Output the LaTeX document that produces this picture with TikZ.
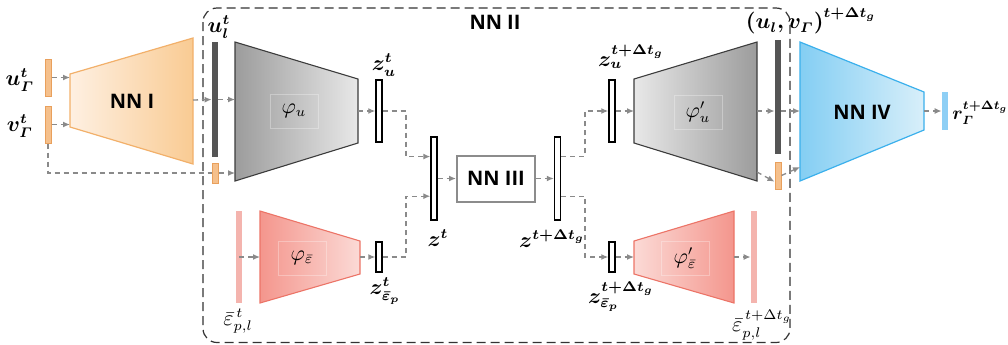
\documentclass[tikz,border=0pt]{standalone}
\usepackage{amsmath}
\usepackage{bm}
\usepackage{graphicx}
\usepackage{fontspec}
\newfontfamily\nnfont{Open Sans}
\usetikzlibrary{arrows.meta,calc}
\definecolor{arrowgray}{HTML}{8A8A8A}
\definecolor{orangebar}{HTML}{F5C08C}
\definecolor{orangeedge}{HTML}{E9A05C}
\definecolor{nnIl}{HTML}{FEF0E2}
\definecolor{nnIr}{HTML}{F9CB93}
\definecolor{nnIedge}{HTML}{F2B06A}
\definecolor{darkbar}{HTML}{555555}
\definecolor{gdark}{HTML}{9C9C9C}
\definecolor{glight}{HTML}{E8E8E8}
\definecolor{gedge}{HTML}{3C3C3C}
\definecolor{pinkbar}{HTML}{F4B4AE}
\definecolor{pdark}{HTML}{F4968D}
\definecolor{plight}{HTML}{FBDAD6}
\definecolor{pedge}{HTML}{EC7467}
\definecolor{bdark}{HTML}{84CEF3}
\definecolor{blight}{HTML}{D8EFFA}
\definecolor{bedge}{HTML}{3BB0EC}
\definecolor{bluebar}{HTML}{8ECFF5}
\definecolor{boxgray}{HTML}{8C8C8C}
\tikzset{
  conn/.style={draw=arrowgray, line width=0.65pt, dash pattern=on 2.5pt off 2pt, -{Latex[length=3.5pt,width=3pt]}},
  plainconn/.style={draw=arrowgray, line width=0.65pt, dash pattern=on 2.5pt off 2pt},
  obar/.style={draw=orangeedge, fill=orangebar, line width=0.5pt, minimum width=3pt, inner sep=0pt},
  dbar/.style={fill=darkbar, draw=none, minimum width=3pt, inner sep=0pt},
  zbar/.style={draw=black, fill=white, line width=0.7pt, minimum width=3pt, inner sep=0pt},
  pbar/.style={fill=pinkbar, draw=none, minimum width=3pt, inner sep=0pt},
  bbar/.style={fill=bluebar, draw=none, minimum width=3pt, inner sep=0pt},
  title/.style={font=\nnfont\bfseries\fontsize{10}{12}\selectfont, inner sep=0pt},
  lab/.style={font=\fontsize{10.5}{12}\selectfont, inner sep=0pt},
  phil/.style={font=\fontsize{10.5}{12}\selectfont, draw=white, draw opacity=0.3, line width=0.4pt, minimum width=24pt, minimum height=17pt, inner sep=0pt},
  nnbox/.style={draw=black!80, line width=0.6pt, dash pattern=on 4.5pt off 2.5pt, rounded corners=7pt},
  trapg/.style={draw=gedge, line width=0.55pt},
  trapp/.style={draw=pedge, line width=0.55pt},
}
\begin{document}
\begin{tikzpicture}[x=0.5pt,y=-0.5pt]
\useasboundingbox (0,0) rectangle (1008,344);

% NN II frame
\draw[nnbox] (203,8) rectangle (790,342.5);
\node[title] (nn2) at (495,22) {NN II};

% ---------- NN I ----------
\draw[draw=nnIedge, line width=0.6pt, left color=nnIl, right color=nnIr]
  (70,74) -- (193,38) -- (193,164) -- (70,127) -- cycle;
\coordinate (nn1w) at (70,100);
\coordinate (nn1e) at (193,100);
\node[title] (nn1) at (132,101) {NN I};

\node[obar, minimum height=18.5pt] (uG) at (48,77.5) {};
\node[obar, minimum height=18.5pt] (vG) at (48,124.5) {};
\node[lab] (uGl) at (20,80) {$\bm{u^{t}_{\varGamma}}$};
\node[lab] (vGl) at (20,126) {$\bm{v^{t}_{\varGamma}}$};
\draw[conn] (uG.east) -- (uG.east -| nn1w);
\draw[conn] (vG.east) -- (vG.east -| nn1w);

% ---------- u_l^t ----------
\node[dbar, minimum height=57.5pt] (ul) at (215,99.5) {};
\node[obar, minimum height=10pt] (ulo) at (215,173) {};
\node[lab] (ull) at (219,27) {$\bm{u^{t}_{l}}$};
\draw[conn] (nn1e) -- (ul.west);

% ---------- phi_u ----------
\draw[trapg, left color=gdark, right color=glight]
  (235,42) -- (358,79) -- (358,143) -- (235,181) -- cycle;
\coordinate (phiuw) at (235,111);
\coordinate (phiue) at (358,111);
\node[phil] (phiu) at (294,111) {$\varphi_u$};
\draw[conn] (ul.east) -- (ul.east -| phiuw);
\draw[plainconn] (vG.south) |- (ulo.west);
\draw[conn] (ulo.east) -- (ulo.east -| phiuw);

\node[zbar, minimum height=31pt] (zu) at (379,111) {};
\node[lab] (zul) at (384,65) {$\bm{z^{t}_{u}}$};
\draw[conn] (phiue) -- (zu.west);

% ---------- phi_eps ----------
\node[pbar, minimum height=46pt] (eps) at (239,257) {};
\node[lab] (epsl) at (238,321) {$\bar{\varepsilon}^{\,t}_{p,l}$};
\draw[trapp, left color=pdark, right color=plight]
  (260,211) -- (360,241) -- (360,274) -- (260,303) -- cycle;
\coordinate (phiew) at (260,257);
\coordinate (phiee) at (360,257);
\node[phil] (phie) at (302,258) {$\varphi_{\bar{\varepsilon}}$};
\draw[conn] (eps.center) -- (phiew);
\node[zbar, minimum height=15pt] (ze) at (379,257) {};
\node[lab] (zel) at (385,291) {$\bm{z^{t}_{\bar{\varepsilon}_p}}$};
\draw[conn] (phiee) -- (ze.west);

% ---------- z^t, NN III, z^{t+dt} ----------
\node[zbar, minimum height=41.5pt] (zt) at (434,178.5) {};
\node[lab] (ztl) at (438,238) {$\bm{z^{t}}$};
\coordinate (mx1) at (406,0);
\coordinate (ztin1) at ($(zt.north west)!0.24!(zt.south west)$);
\coordinate (ztin2) at ($(zt.north west)!0.71!(zt.south west)$);
\draw[conn] (zu.east) -- (zu.east -| mx1) |- (ztin1);
\draw[conn] (ze.east) -- (ze.east -| mx1) |- (ztin2);

\node[draw=boxgray, line width=1pt, fill=white, minimum width=39pt, minimum height=23pt, font=\nnfont\bfseries\fontsize{10}{12}\selectfont] (nn3) at (496,178.5) {NN III};
\draw[conn] (zt.east) -- (nn3.west);

\node[zbar, minimum height=41.5pt] (ztd) at (557.5,178.5) {};
\node[lab] (ztdl) at (552,239) {$\bm{z^{t+\Delta t_g}}$};
\draw[conn] (nn3.east) -- (ztd.west);
\coordinate (mx2) at (585,0);
\coordinate (ztdo1) at ($(ztd.north east)!0.24!(ztd.south east)$);
\coordinate (ztdo2) at ($(ztd.north east)!0.71!(ztd.south east)$);

\node[zbar, minimum height=31pt] (zud) at (612,111) {};
\node[lab] (zudl) at (631,57) {$\bm{z^{t+\Delta t_g}_{u}}$};
\node[zbar, minimum height=15pt] (zed) at (612,257) {};
\node[lab] (zedl) at (621,297) {$\bm{z^{t+\Delta t_g}_{\bar{\varepsilon}_p}}$};
\draw[conn] (ztdo1) -- (ztdo1 -| mx2) |- (zud.west);
\draw[conn] (ztdo2) -- (ztdo2 -| mx2) |- (zed.west);

% ---------- phi'_u ----------
\draw[trapg, left color=glight, right color=gdark]
  (634,79) -- (757,42) -- (757,181) -- (634,143) -- cycle;
\coordinate (phiudw) at (634,111);
\coordinate (phiude) at (757,111);
\coordinate (phiudc) at (757,172);
\node[phil] (phiud) at (698,112) {$\varphi'_u$};
\draw[conn] (zud.east) -- (phiudw);

\node[dbar, minimum height=57pt] (ulvd) at (778,97) {};
\node[obar, minimum height=13.5pt] (ulvdo) at (778,175.5) {};
\node[lab] (ulvdl) at (811,21) {$\bm{(u_l,v_{\varGamma})^{t+\Delta t_g}}$};
\draw[conn] (phiude) -- (phiude -| ulvd.west);
\coordinate (ulvdoin) at ($(ulvdo.north west)!0.72!(ulvdo.south west)$);
\draw[conn] (phiudc) -- (ulvdoin);

% ---------- phi'_eps ----------
\draw[trapp, left color=plight, right color=pdark]
  (634,241) -- (734,211) -- (734,303) -- (634,274) -- cycle;
\coordinate (phiedw) at (634,257);
\coordinate (phiede) at (734,257);
\node[phil] (phied) at (685,258) {$\varphi'_{\bar{\varepsilon}}$};
\draw[conn] (zed.east) -- (phiedw);
\node[pbar, minimum height=46pt] (epsd) at (754,257) {};
\node[lab] (epsdl) at (762,325) {$\bar{\varepsilon}^{\,t+\Delta t_g}_{p,l}$};
\draw[conn] (phiede) -- (epsd.west);

% ---------- NN IV ----------
\draw[draw=bedge, line width=0.6pt, left color=bdark, right color=blight]
  (800,42) -- (924,92) -- (924,130) -- (800,181) -- cycle;
\coordinate (nn4w) at (800,111);
\coordinate (nn4w2) at (800,167);
\coordinate (nn4e) at (924,111);
\node[title] (nn4) at (862,112) {NN IV};
\draw[conn] (ulvd.east |- nn4w) -- (nn4w);
\draw[conn] (ulvdo.east) -- (nn4w2);

\node[bbar, minimum height=19pt] (rb) at (945,111) {};
\node[lab, anchor=west] (rbl) at (952,113) {\scalebox{0.86}{$\bm{r^{t+\Delta t_g}_{\varGamma}}$}};
\draw[conn] (nn4e) -- (rb.west);
\end{tikzpicture}
\end{document}
